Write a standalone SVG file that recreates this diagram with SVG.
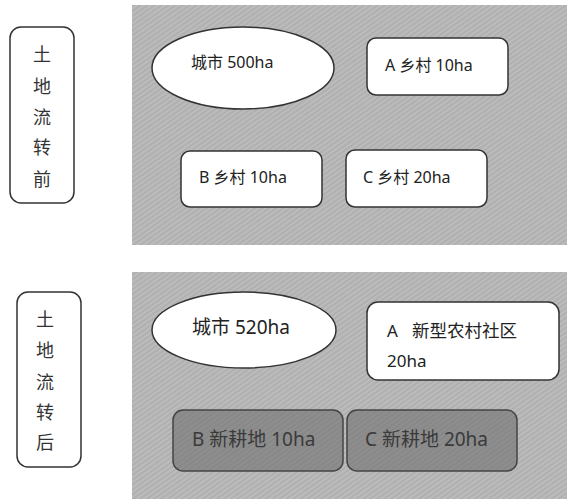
<svg xmlns="http://www.w3.org/2000/svg" width="567" height="499" viewBox="0 0 567 499">
<defs>
<pattern id="tex" width="4" height="4" patternUnits="userSpaceOnUse" patternTransform="rotate(-35)">
<rect width="4" height="4" fill="#b7b7b7"/>
<line x1="0" y1="1" x2="4" y2="1" stroke="#a9a9a9" stroke-width="1"/>
<line x1="0" y1="3" x2="4" y2="3" stroke="#c2c2c2" stroke-width="0.8"/>
</pattern>
<pattern id="tex2" width="4" height="4" patternUnits="userSpaceOnUse" patternTransform="rotate(-35)">
<rect width="4" height="4" fill="#8e8e8e"/>
<line x1="0" y1="1" x2="4" y2="1" stroke="#838383" stroke-width="1"/>
</pattern>
</defs>
<style>
text{font-family:"Noto Sans","Noto Sans CJK SC",sans-serif;fill:#222}
.lbl{font-family:"Noto Sans CJK SC",sans-serif;font-size:18px;fill:#333;text-anchor:middle}
.w{fill:#fff;stroke:#333;stroke-width:1.5}
.d{fill:url(#tex2);stroke:#444;stroke-width:1.5}
.dt{fill:#3a3a3a}
</style>
<rect id="panel-before" x="132" y="5" width="435" height="240" fill="url(#tex)"/>
<rect id="panel-after" x="132" y="272" width="435" height="227" fill="url(#tex)"/>

<g id="label-before">
<rect x="10" y="27" width="64" height="176" rx="11" fill="#fff" stroke="#333" stroke-width="1.5"/>
<text class="lbl" x="42" y="61">土</text>
<text class="lbl" x="42" y="93">地</text>
<text class="lbl" x="42" y="124">流</text>
<text class="lbl" x="42" y="154">转</text>
<text class="lbl" x="42" y="186">前</text>
</g>
<g id="city-before">
<ellipse class="w" cx="243" cy="68" rx="91" ry="41"/>
<text x="191" y="68" font-size="16">城市 500ha</text>
</g>
<g id="a-before">
<rect class="w" x="367" y="38" width="141" height="57" rx="9"/>
<text x="385" y="71" font-size="16">A 乡村 10ha</text>
</g>
<g id="b-before">
<rect class="w" x="181" y="151" width="141" height="56" rx="9"/>
<text x="199" y="183" font-size="16">B 乡村 10ha</text>
</g>
<g id="c-before">
<rect class="w" x="346" y="150" width="141" height="57" rx="9"/>
<text x="363" y="183" font-size="16">C 乡村 20ha</text>
</g>

<g id="label-after">
<rect x="17" y="292" width="64" height="175" rx="11" fill="#fff" stroke="#333" stroke-width="1.5"/>
<text class="lbl" x="45" y="326">土</text>
<text class="lbl" x="45" y="357">地</text>
<text class="lbl" x="45" y="389">流</text>
<text class="lbl" x="45" y="419">转</text>
<text class="lbl" x="45" y="449">后</text>
</g>
<g id="city-after">
<ellipse class="w" cx="244" cy="330" rx="92" ry="38"/>
<text x="192" y="334" font-size="19">城市 520ha</text>
</g>
<g id="a-after">
<rect class="w" x="367" y="302" width="192" height="78" rx="11"/>
<text x="387" y="337" font-size="17">A<tspan x="412" font-size="17.5">新型农村社区</tspan></text>
<text x="387" y="367" font-size="17">20ha</text>
</g>
<g id="b-after">
<rect class="d" x="173" y="410" width="170" height="61" rx="10"/>
<text class="dt" x="192" y="446" font-size="19">B 新耕地 10ha</text>
</g>
<g id="c-after">
<rect class="d" x="347" y="410" width="170" height="61" rx="10"/>
<text class="dt" x="365" y="446" font-size="19">C 新耕地 20ha</text>
</g>
<g id="connectors"/>
</svg>
